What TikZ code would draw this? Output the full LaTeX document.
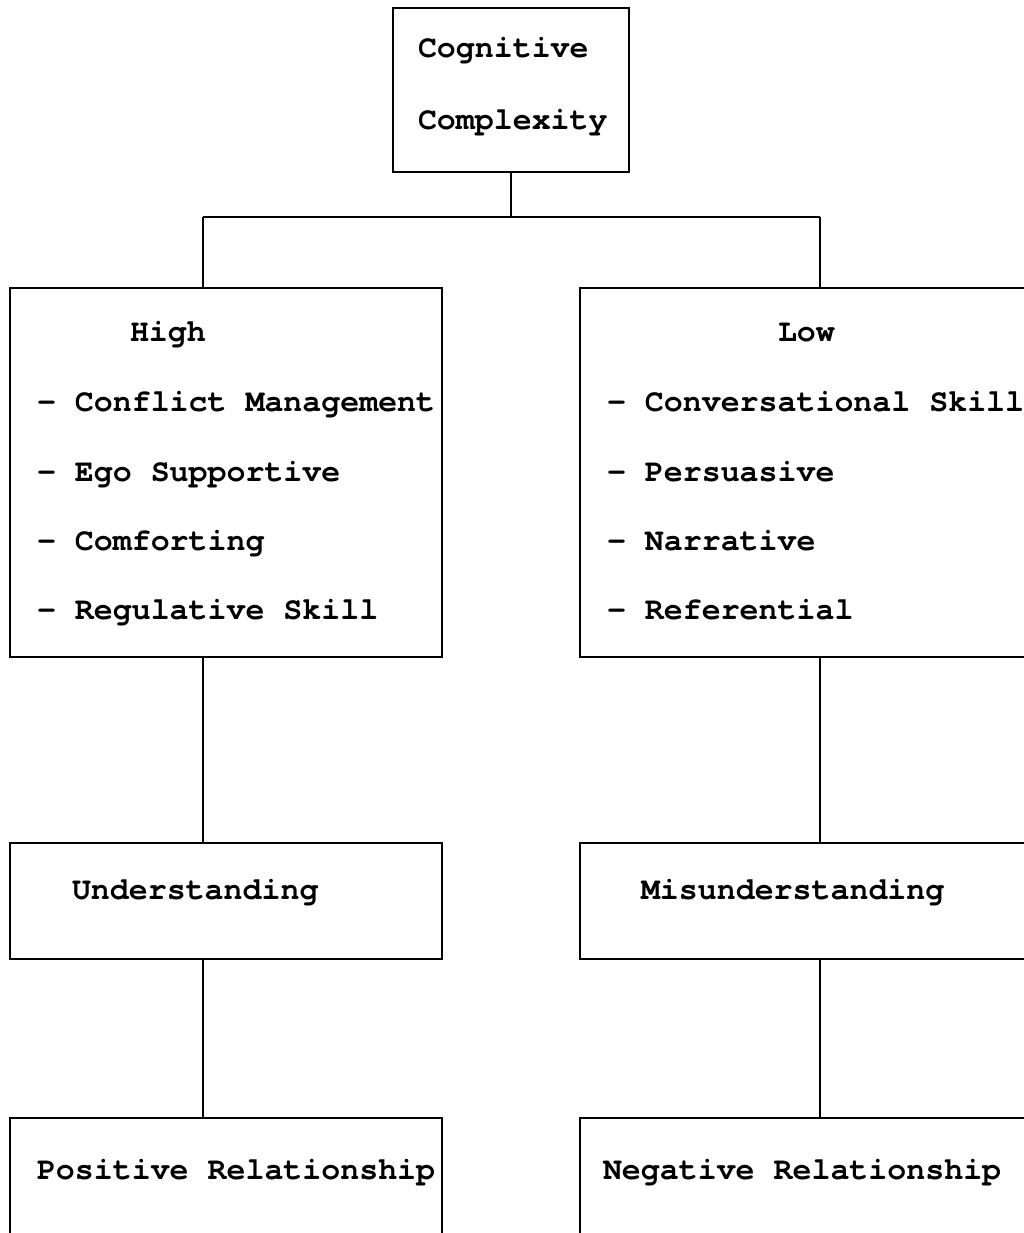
\documentclass[tikz,border=0pt]{standalone}
\usepackage{fontspec}
\setmainfont{TeX Gyre Cursor}[Ligatures={NoCommon}]
\begin{document}
\begin{tikzpicture}[x=1pt,y=-1pt,
  box/.style={draw=black, line width=2.8pt, inner sep=0pt, outer sep=0pt},
  lbl/.style={anchor=base west, inner sep=0pt, outer sep=0pt, font=\fontsize{31.6pt}{38pt}\selectfont\bfseries},
  conn/.style={draw=black, line width=2.8pt}]
\useasboundingbox (0,0) rectangle (1024,1233);
\clip (0,0) rectangle (1024,1233);
% boxes
\node[box, minimum width=236pt, minimum height=164pt] (top) at (511,90) {};
\node[box, minimum width=432pt, minimum height=369pt] (high) at (226,472.5) {};
\node[box, minimum width=470pt, minimum height=369pt] (low) at (815,472.5) {};
\node[box, minimum width=432pt, minimum height=116pt] (und) at (226,901) {};
\node[box, minimum width=470pt, minimum height=116pt] (mis) at (815,901) {};
\node[box, minimum width=432pt, minimum height=150pt] (pos) at (226,1193) {};
\node[box, minimum width=470pt, minimum height=150pt] (neg) at (815,1193) {};
% texts
\node[lbl] (t1) at (418,58) {Cognitive};
\node[lbl] (t2) at (418,130) {Complexity};
\node[lbl] (h0) at (130,341) {High};
\node[lbl] (h1) at (37,411) {- Conflict Management};
\node[lbl] (h2) at (37,481) {- Ego Supportive};
\node[lbl] (h3) at (37,550) {- Comforting};
\node[lbl] (h4) at (37,619) {- Regulative Skill};
\node[lbl] (l0) at (778,341) {Low};
\node[lbl] (l1) at (607,411) {- Conversational Skill};
\node[lbl] (l2) at (607,481) {- Persuasive};
\node[lbl] (l3) at (607,550) {- Narrative};
\node[lbl] (l4) at (607,619) {- Referential};
\node[lbl] (u) at (72,899) {Understanding};
\node[lbl] (m) at (641,899) {Misunderstanding};
\node[lbl] (p) at (37,1179) {Positive Relationship};
\node[lbl] (n) at (603,1179) {Negative Relationship};
% connectors
\coordinate (jl) at (203,217);
\coordinate (jr) at (820,217);
\draw[conn] (top.south) -- (top.south |- jl);
\draw[conn] (jl) -- (jr);
\draw[conn] (jl) -- (jl |- high.north);
\draw[conn] (jr) -- (jr |- low.north);
\draw[conn] (jl |- high.south) -- (jl |- und.north);
\draw[conn] (jr |- low.south) -- (jr |- mis.north);
\draw[conn] (jl |- und.south) -- (jl |- pos.north);
\draw[conn] (jr |- mis.south) -- (jr |- neg.north);
\end{tikzpicture}
\end{document}
